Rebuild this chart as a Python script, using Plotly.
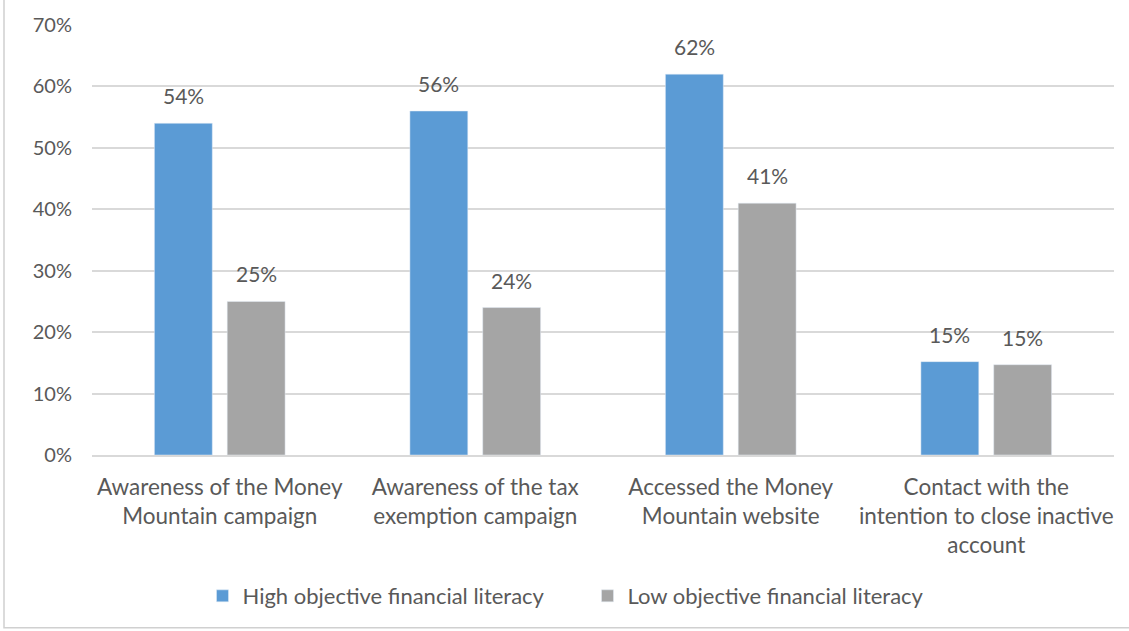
import plotly.graph_objects as go

categories = [
    "Awareness of the Money<br>Mountain campaign",
    "Awareness of the tax<br>exemption campaign",
    "Accessed the Money<br>Mountain website",
    "Contact with the<br>intention to close inactive<br>account",
]
series_names = ["High objective financial literacy", "Low objective financial literacy"]
high_vals = [54, 56, 62, 15.2]
low_vals = [25, 24, 41, 14.7]
high_labels = ["54%", "56%", "62%", "15%"]
low_labels = ["25%", "24%", "41%", "15%"]
y_ticks = [0, 10, 20, 30, 40, 50, 60, 70]
y_ticktext = [f"{v}%" for v in y_ticks]

FONT = "Lato"
TXT = "#595959"
W, H = 1129, 631
ML, MR, MT, MB = 92, 15, 22, 176
BARGAP = 0.43

fig = go.Figure()
fig.add_trace(go.Bar(name=series_names[0], x=categories, y=high_vals,
                     marker_color="#5B9BD5", legendwidth=340))
fig.add_trace(go.Bar(name=series_names[1], x=categories, y=low_vals,
                     marker_color="#A5A5A5"))

# data labels, placed above each bar slot (slot width derived from bargap)
slot = (1 - BARGAP) / 2
for vals, labels, off in [(high_vals, high_labels, -slot / 2), (low_vals, low_labels, slot / 2)]:
    for i, (v, t) in enumerate(zip(vals, labels)):
        fig.add_annotation(x=i + off, y=v, text=t, showarrow=False, yanchor="bottom",
                           yshift=13, font=dict(size=21, color=TXT, family=FONT))

pw = W - ML - MR
ph = H - MT - MB
fig.add_shape(type="rect", xref="paper", yref="paper",
              x0=(4 - ML) / pw, x1=(1160 - ML) / pw,
              y0=-(629 - MT - ph) / ph, y1=(ph + MT + 5) / ph,
              line=dict(color="#D0D0D0", width=1.5), layer="below")

fig.update_layout(
    width=W, height=H,
    margin=dict(l=ML, r=MR, t=MT, b=MB),
    paper_bgcolor="white", plot_bgcolor="white",
    barmode="group", bargap=BARGAP, bargroupgap=0.205,
    font=dict(family=FONT, color=TXT, size=21),
    showlegend=True,
    legend=dict(orientation="h", x=0.4638, xanchor="center", y=-0.328, yanchor="middle",
                font=dict(size=22, color=TXT, family=FONT), itemwidth=30,
                traceorder="normal"),
)
fig.update_yaxes(range=[0, 70], tickvals=y_ticks, ticktext=y_ticktext,
                 showgrid=True, gridcolor="#D9D9D9", gridwidth=1.5,
                 zeroline=False, showline=False, ticks="",
                 tickfont=dict(size=20, color=TXT, family=FONT), ticklabelstandoff=19)
fig.update_xaxes(showline=True, linecolor="#D9D9D9", linewidth=1.5, ticks="",
                 tickfont=dict(size=22.5, color=TXT, family=FONT), ticklabelstandoff=11)

fig.write_html("out.html")
